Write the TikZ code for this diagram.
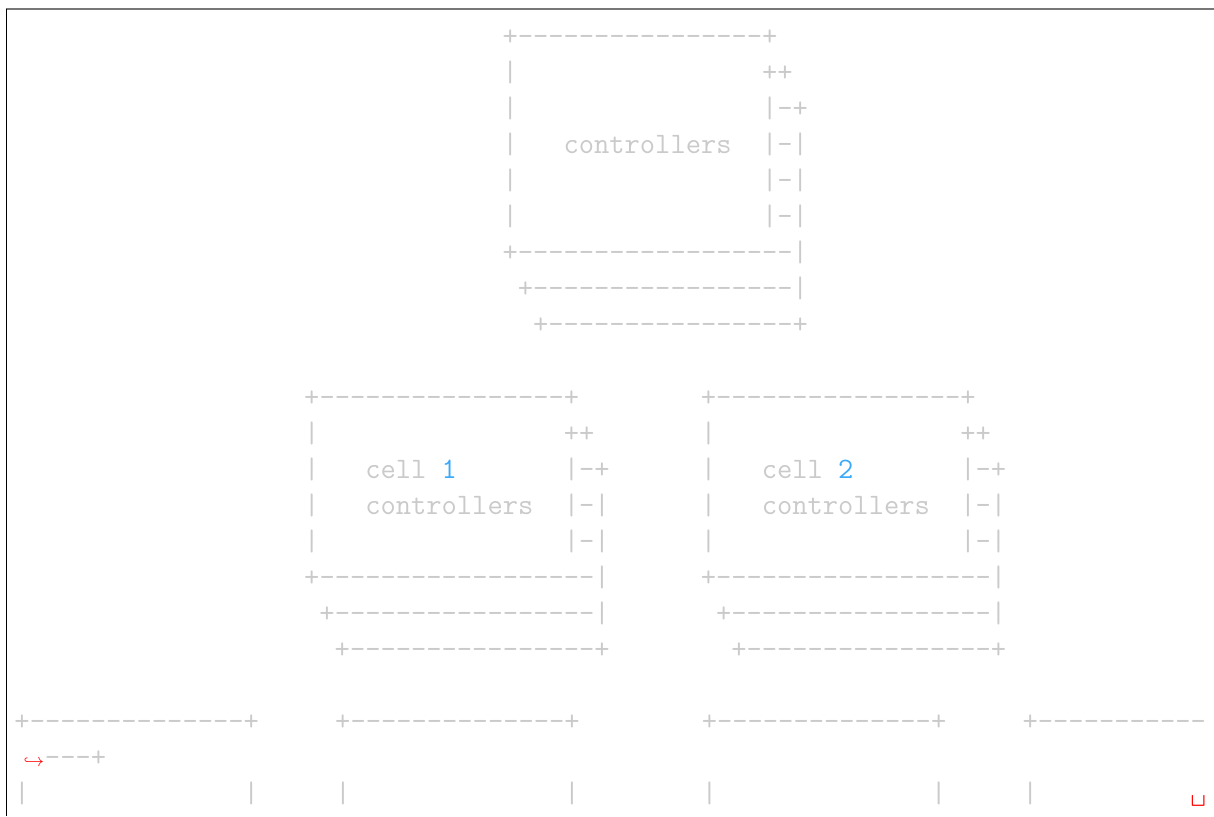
\documentclass[tikz,border=0pt]{standalone}
\usepackage{xcolor}
\definecolor{artgray}{HTML}{CACACA}
\definecolor{numblue}{RGB}{60,170,250}
\definecolor{framegray}{HTML}{777777}
\newcommand\asciifont{\fontsize{14.83}{18.03}\selectfont\ttfamily}
\newcommand\gap[1]{\kern#1\fontcharwd\font`x\relax}
\begin{document}
\begin{tikzpicture}[x=7.625pt, y=-18.025pt,
  every node/.style={anchor=base west, inner sep=0pt, font=\asciifont, text=artgray}]
\useasboundingbox[fill=white] (-0.923,-1.262) rectangle (78.68,21.373);
% frame of the code block
\draw[framegray, line width=1pt] (-0.53,-0.999) -- (78.68,-0.999);
\draw[black, line width=0.6pt] (-0.51,-0.999) -- (-0.51,21.373);
% top level controllers
\node (top-0) at (32,0) {+----------------+};
\node (top-1) at (32,1) {|\gap{16}++};
\node (top-2) at (32,2) {|\gap{16}|-+};
\node (top-3) at (32,3) {|\gap{3}controllers\gap{2}|-|};
\node (top-4) at (32,4) {|\gap{16}|-|};
\node (top-5) at (32,5) {|\gap{16}|-|};
\node (top-6) at (32,6) {+------------------|};
\node (top-7) at (33,7) {+-----------------|};
\node (top-8) at (34,8) {+----------------+};
% cell 1 controllers
\node (cellA-0) at (19,10) {+----------------+};
\node (cellA-1) at (19,11) {|\gap{16}++};
\node (cellA-2) at (19,12) {|\gap{3}cell \textcolor{numblue}{1}\gap{7}|-+};
\node (cellA-3) at (19,13) {|\gap{3}controllers\gap{2}|-|};
\node (cellA-4) at (19,14) {|\gap{16}|-|};
\node (cellA-5) at (19,15) {+------------------|};
\node (cellA-6) at (20,16) {+-----------------|};
\node (cellA-7) at (21,17) {+----------------+};
% cell 2 controllers
\node (cellB-0) at (45,10) {+----------------+};
\node (cellB-1) at (45,11) {|\gap{16}++};
\node (cellB-2) at (45,12) {|\gap{3}cell \textcolor{numblue}{2}\gap{7}|-+};
\node (cellB-3) at (45,13) {|\gap{3}controllers\gap{2}|-|};
\node (cellB-4) at (45,14) {|\gap{16}|-|};
\node (cellB-5) at (45,15) {+------------------|};
\node (cellB-6) at (46,16) {+-----------------|};
\node (cellB-7) at (47,17) {+----------------+};
% compute hosts, line wrapped at the right edge
\node (hosts-0) at (0,19) {+--------------+\gap{5}+--------------+\gap{8}+--------------+\gap{5}+-----------};
\node[anchor=base east, font=\fontsize{9.5}{10}\selectfont, text=red] (wrap) at (2,20) {$\hookrightarrow$};
\node (hosts-1) at (2,20) {---+};
\node (hosts-2) at (0,21) {|\gap{14}|\gap{5}|\gap{14}|\gap{8}|\gap{14}|\gap{5}|\gap{10}\textcolor{red}{\textvisiblespace}};
\end{tikzpicture}
\end{document}
